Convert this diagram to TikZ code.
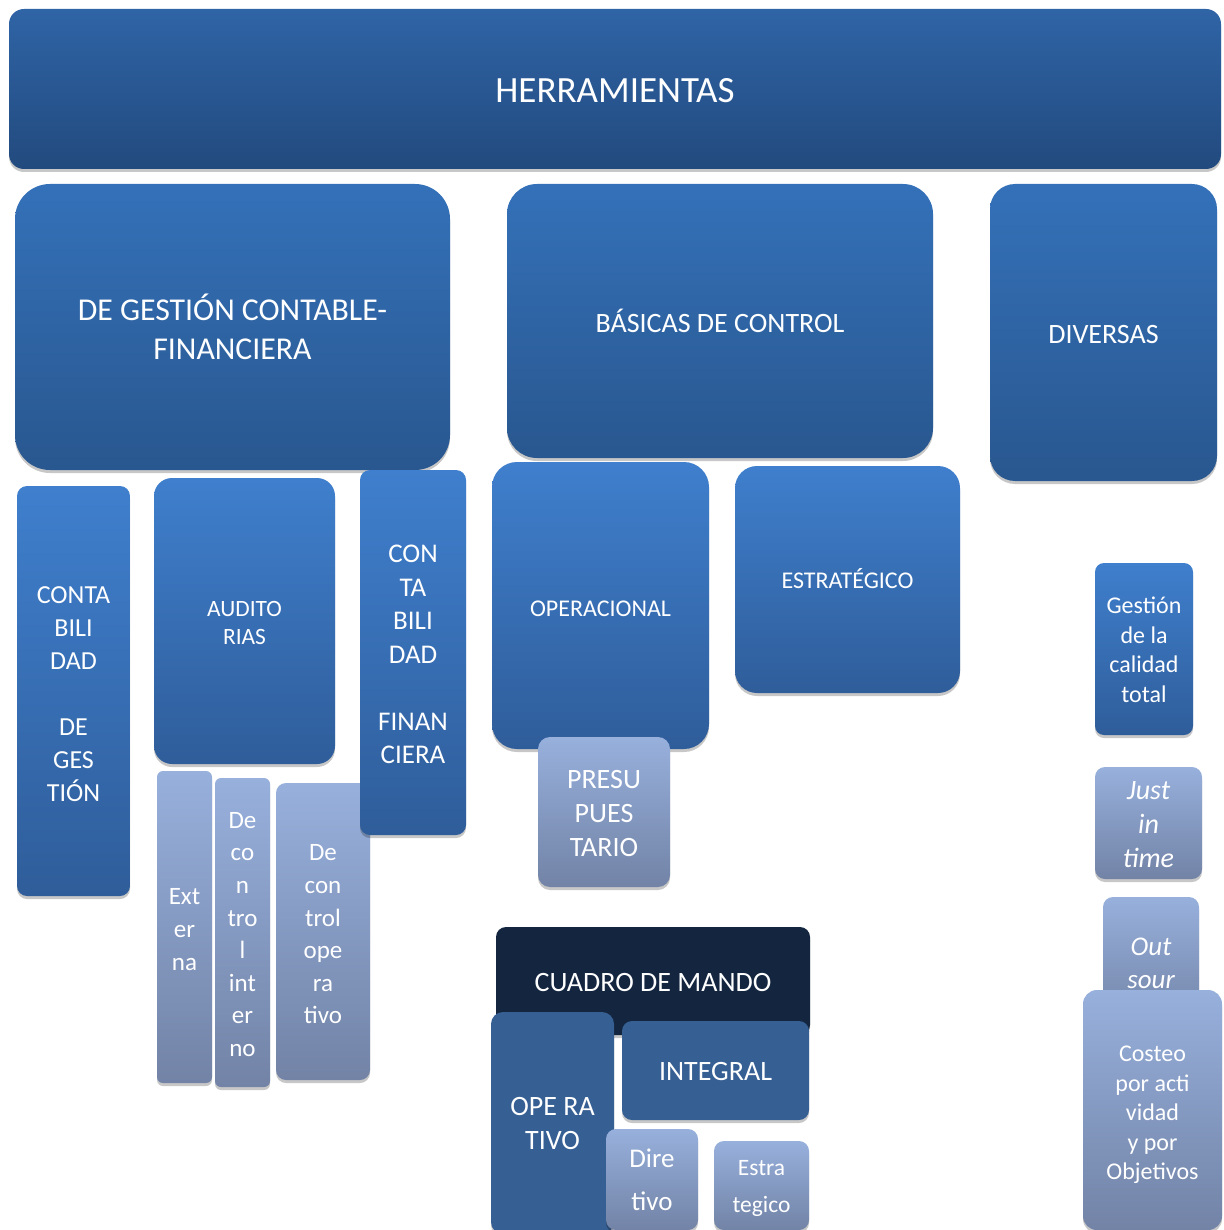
\documentclass[tikz,border=0pt]{standalone}
\usepackage{fontspec}
\setmainfont{Carlito}
\usetikzlibrary{shadows}
\definecolor{hT}{HTML}{2F64A6}
\definecolor{hB}{HTML}{224A7E}
\definecolor{aT}{HTML}{3471B9}
\definecolor{aB}{HTML}{29578F}
\definecolor{bT}{HTML}{3F7FCD}
\definecolor{bB}{HTML}{2F5D9A}
\definecolor{lT}{HTML}{97B0DC}
\definecolor{lB}{HTML}{7283A6}
\definecolor{navy}{HTML}{13253F}
\definecolor{flatb}{HTML}{365F93}
\tikzset{
  box/.style={inner sep=0pt,
    drop shadow={shadow xshift=0pt, shadow yshift=-3pt, opacity=0.22, fill=black}},
  boxtext/.style={text=white, align=center, inner sep=0pt},
  lvlzero/.style={box, top color=hT, bottom color=hB},
  lvlone/.style={box, top color=aT, bottom color=aB},
  lvltwo/.style={box, top color=bT, bottom color=bB},
  lightbox/.style={box, top color=lT, bottom color=lB},
  navybox/.style={box, fill=navy},
  flatbox/.style={box, fill=flatb},
  fs/.style 2 args={font=\fontsize{#1}{#2}\selectfont}
}
% name, shape style, font style, width, height, cx, cy, text shift, text
\newcommand\mkbox[9]{%
  \node (#1) [#2, minimum width=#4pt, minimum height=#5pt] at (#6,#7) {};
  \node (#1t) [boxtext, #3] at ([yshift=-#8pt]#1.center) {#9};}
\begin{document}
\begin{tikzpicture}[x=1pt,y=-1pt]
\useasboundingbox (0,0) rectangle (1223,1230);
% top
\mkbox{herr}{lvlzero, rounded corners=15pt}{fs={37}{44}}{1212}{160}{615}{89}{2}{HERRAMIENTAS}
% second level
\mkbox{gest}{lvlone, rounded corners=35pt}{fs={31.8}{39}}{435}{286}{232.5}{327}{0}{DE GESTIÓN CONTABLE-\\FINANCIERA}
\mkbox{basic}{lvlone, rounded corners=30pt}{fs={28}{34}}{426}{274}{720}{321}{0}{BÁSICAS DE CONTROL}
\mkbox{divers}{lvlone, rounded corners=25pt}{fs={28}{34}}{227}{297}{1103.5}{332.5}{2}{DIVERSAS}
% third level, left
\mkbox{contag}{lvltwo, rounded corners=10pt}{fs={26}{33}}{113}{410}{73.5}{691}{3}{CONTA\\BILI\\DAD\\~\\DE\\GES\\TIÓN}
\mkbox{audit}{lvltwo, rounded corners=18pt}{fs={23.4}{28}}{181}{286}{244.5}{621}{2}{AUDITO\\RIAS}
\mkbox{ext}{lightbox, rounded corners=6pt}{fs={25}{33}}{55}{312}{184.5}{927}{3}{Ext\\er\\na}
\mkbox{dci}{lightbox, rounded corners=6pt}{fs={25}{32.6}}{55}{309}{242.5}{932.5}{2}{De\\co\\n\\tro\\l\\int\\er\\no}
\mkbox{dco}{lightbox, rounded corners=10pt}{fs={25}{32.6}}{94}{297}{323}{931.5}{3}{De\\con\\trol\\ope\\ra\\tivo}
\mkbox{contaf}{lvltwo, rounded corners=10pt}{fs={27}{33.5}}{106}{365}{413}{652.5}{2}{CON\\TA\\BILI\\DAD\\~\\FINAN\\CIERA}
% third level, middle
\mkbox{opera}{lvltwo, rounded corners=25pt}{fs={24}{29}}{217}{287}{600.5}{605.5}{3}{OPERACIONAL}
\mkbox{estra}{lvltwo, rounded corners=22pt}{fs={24}{29}}{225}{227}{847.5}{579.5}{-1}{ESTRATÉGICO}
\mkbox{presu}{lightbox, rounded corners=12pt}{fs={28}{34}}{132}{150}{604}{812}{2}{PRESU\\PUES\\TARIO}
% cuadro de mando
\mkbox{cuadro}{navybox, rounded corners=10pt}{fs={28}{34}}{314}{108}{653}{981}{2}{CUADRO DE MANDO}
\mkbox{ope}{flatbox, rounded corners=12pt}{fs={28}{34}}{123}{222}{552.5}{1123}{0}{OPE RA\\TIVO}
\mkbox{integ}{flatbox, rounded corners=10pt}{fs={28}{34}}{187}{99}{715.5}{1070.5}{1}{INTEGRAL}
\mkbox{dire}{lightbox, rounded corners=10pt}{fs={27}{43}}{92}{101}{652}{1179.5}{0}{Dire\\tivo}
\mkbox{estg}{lightbox, rounded corners=10pt}{fs={23.5}{37}}{95}{89}{761.5}{1185.5}{3}{Estra\\tegico}
% third level, right
\mkbox{gcal}{lvltwo, rounded corners=9pt}{fs={24}{29.5}}{98}{172}{1144}{649}{1}{Gestión\\de la\\calidad\\total}
\mkbox{jit}{lightbox, rounded corners=10pt}{fs={28}{34}}{107}{112}{1148.5}{823}{2}{\itshape Just\\\itshape in\\\itshape time}
\mkbox{outs}{lightbox, rounded corners=10pt}{fs={27}{33}}{96}{130}{1151}{962}{1}{\itshape Out\\\itshape sour}
\mkbox{costeo}{lightbox, rounded corners=14pt}{fs={24}{29.5}}{139}{240}{1152.5}{1110}{5}{Costeo\\por acti\\vidad\\y por\\Objetivos}
\end{tikzpicture}
\end{document}
